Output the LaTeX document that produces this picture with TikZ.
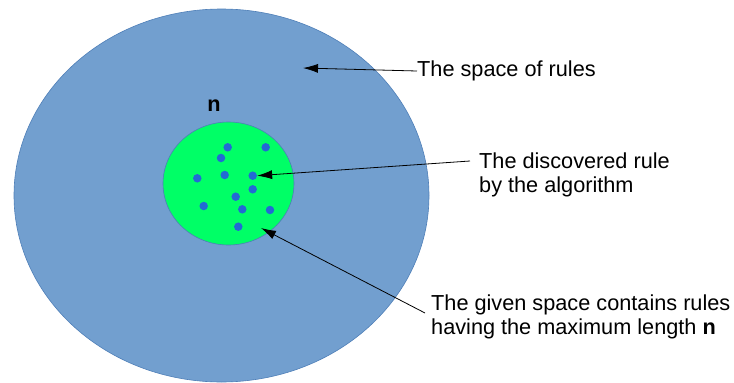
\documentclass[tikz,border=0pt]{standalone}
\usepackage{fontspec}
\setmainfont{Liberation Sans}
\usepackage{tikz}
\usepackage{xcolor}
\usetikzlibrary{arrows.meta,positioning,shapes.geometric}
\definecolor{Sky}{HTML}{729FCF}
\definecolor{SkyEdge}{HTML}{4F7FB8}
\definecolor{Lime}{HTML}{00FF66}
\definecolor{Dot}{HTML}{2369D4}

\begin{document}
\begin{tikzpicture}[x=1pt,y=-1pt,
  bigset/.style={ellipse,draw=SkyEdge,fill=Sky,line width=0.6pt,inner sep=0pt},
  subset/.style={ellipse,draw=SkyEdge,fill=Lime,line width=0.6pt,inner sep=0pt},
  rule/.style={circle,fill=Dot,inner sep=0pt,minimum size=8.5pt},
  label/.style={anchor=west,inner sep=0pt,align=left,font=\fontsize{21.7}{24.2}\selectfont},
  arrow/.style={-{Latex[length=15pt,width=9pt]},line width=0.8pt,draw=black}
]
\useasboundingbox (0,0) rectangle (734,383);
\node[bigset,minimum width=415pt,minimum height=373pt] (space) at (221.5,195.5) {};
\node[subset,minimum width=131pt,minimum height=123pt] (given) at (228.5,183.5) {};
\node[font=\bfseries\fontsize{21.7}{24.2}\selectfont,inner sep=0pt] (nlen) at (214,106) {n};
\foreach \i/\x/\y in {1/227.7/147.3, 2/265.7/147.3, 3/221/158, 4/197.3/178.3,
    5/224.7/175, 6/252.7/175.7, 7/252.7/189.3, 8/235.7/196.7,
    9/203.7/206, 10/242.3/209.3, 11/270/210, 12/238.3/226.7}
  \node[rule] (d\i) at (\x,\y) {};
\node[label] (rules) at (417,71) {The space of rules};
\node[label] (algo) at (479,175) {The discovered rule\\by the algorithm};
\node[label] (maxlen) at (431,316.5) {The given space contains rules\\having the maximum length \textbf{n}};
\coordinate (t1) at (303,68);
\coordinate (t3) at (261,228);
\coordinate (s2) at (470,161);
\coordinate (s3) at (425,313);
\draw[arrow] (rules.west) -- (t1);
\draw[arrow] (s2) -- (d6.east);
\draw[arrow] (s3) -- (t3);
\end{tikzpicture}
\end{document}
